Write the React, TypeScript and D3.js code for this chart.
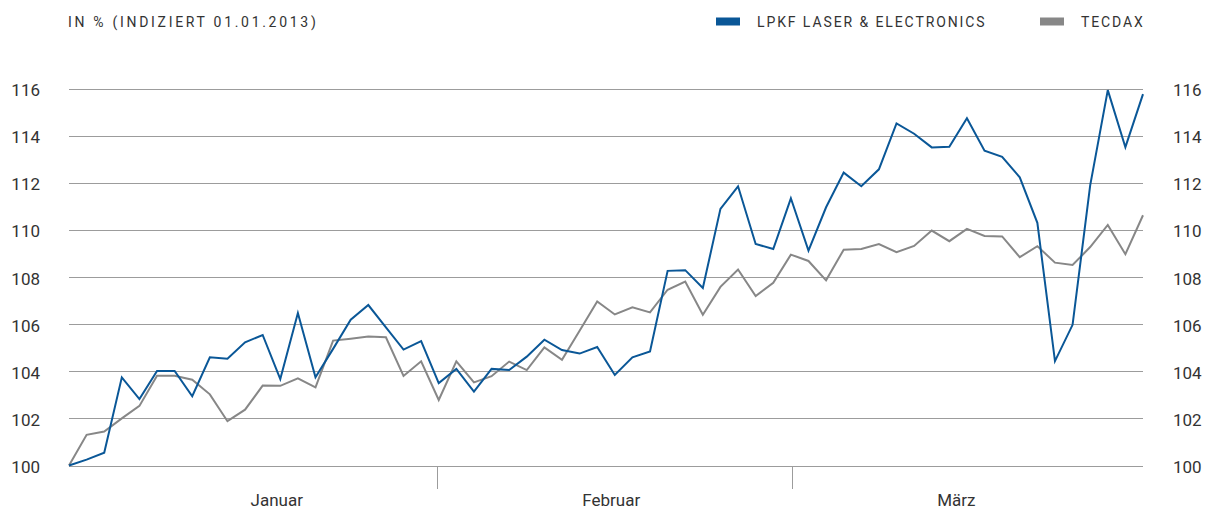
import React, { useEffect, useRef } from "react";
import * as d3 from "d3";

// index values, first trading day = 100
const lpkf = [
  100.0, 100.25, 100.54, 103.74, 102.82, 104.01, 104.01, 102.94, 104.59, 104.53,
  105.23, 105.54, 103.67, 106.47, 103.74, 104.95, 106.19, 106.81, 105.86, 104.92,
  105.28, 103.5, 104.1, 103.14, 104.1, 104.05, 104.62, 105.34, 104.9, 104.75,
  105.03, 103.84, 104.59, 104.84, 108.26, 108.29, 107.53, 110.89, 111.85, 109.4,
  109.19, 111.34, 109.12, 110.96, 112.43, 111.85, 112.57, 114.52, 114.08, 113.5,
  113.53, 114.74, 113.36, 113.1, 112.23, 110.3, 104.43, 105.97, 111.89, 115.93,
  113.51, 115.76,
];

const tecdax = [
  100.0, 101.3, 101.44, 102.0, 102.53, 103.81, 103.81, 103.64, 103.02, 101.88,
  102.37, 103.39, 103.38, 103.7, 103.32, 105.3, 105.38, 105.47, 105.44, 103.8,
  104.42, 102.78, 104.42, 103.53, 103.79, 104.41, 104.05, 105.01, 104.49, 105.72,
  106.96, 106.41, 106.71, 106.5, 107.46, 107.81, 106.4, 107.58, 108.32, 107.19,
  107.75, 108.95, 108.68, 107.86, 109.16, 109.19, 109.4, 109.05, 109.32, 109.97,
  109.52, 110.04, 109.74, 109.72, 108.84, 109.31, 108.61, 108.51, 109.27, 110.21,
  108.97, 110.62,
];

const yTicks = [100, 102, 104, 106, 108, 110, 112, 114, 116];
const months = ["Januar", "Februar", "März"];
// month borders and label centres, in trading-day index units
const monthBreaks = [20.9, 41.05];
const monthCenters = [11.8, 30.8, 50.4];

const seriesNames = ["LPKF LASER & ELECTRONICS", "TECDAX"];
const seriesColors = ["#0a5797", "#878787"];

const FONT = "Roboto, 'Noto Sans', sans-serif";
const TEXT = "#333333";

export default function App() {
  const ref = useRef<SVGSVGElement>(null);

  useEffect(() => {
    const svg = d3.select(ref.current);
    svg.selectAll("*").remove();

    const x = d3.scaleLinear().domain([0, lpkf.length - 1]).range([69, 1143]);
    const y = d3.scaleLinear().domain([100, 116]).range([465.5, 88.5]);

    // title
    svg
      .append("text")
      .attr("x", 68)
      .attr("y", 27)
      .attr("font-family", FONT)
      .attr("font-size", 14)
      .attr("letter-spacing", 2.7)
      .attr("fill", TEXT)
      .text("IN % (INDIZIERT 01.01.2013)");

    // legend
    const legendX = [716, 1040];
    seriesNames.forEach((name, i) => {
      svg
        .append("rect")
        .attr("x", legendX[i])
        .attr("y", 17.5)
        .attr("width", 24)
        .attr("height", 8)
        .attr("fill", seriesColors[i]);
      svg
        .append("text")
        .attr("x", legendX[i] + 41)
        .attr("y", 27)
        .attr("font-family", FONT)
        .attr("font-size", 14)
        .attr("letter-spacing", 1.9)
        .attr("fill", TEXT)
        .text(name);
    });

    // grid
    svg
      .append("g")
      .selectAll("line")
      .data(yTicks)
      .enter()
      .append("line")
      .attr("x1", x(0))
      .attr("x2", x(lpkf.length - 1))
      .attr("y1", (d) => Math.round(y(d)) + 0.5)
      .attr("y2", (d) => Math.round(y(d)) + 0.5)
      .attr("stroke", "#9c9c9c")
      .attr("stroke-width", 1);

    // y labels both sides
    const labels = svg
      .append("g")
      .attr("font-family", FONT)
      .attr("font-size", 17)
      .attr("fill", TEXT);
    labels
      .selectAll(".yl")
      .data(yTicks)
      .enter()
      .append("text")
      .attr("x", 40)
      .attr("y", (d) => y(d) + 7.5)
      .attr("text-anchor", "end")
      .text((d) => d);
    labels
      .selectAll(".yr")
      .data(yTicks)
      .enter()
      .append("text")
      .attr("x", 1173)
      .attr("y", (d) => y(d) + 7.5)
      .text((d) => d);

    // month separators + labels
    svg
      .append("g")
      .selectAll("line")
      .data(monthBreaks)
      .enter()
      .append("line")
      .attr("x1", (d) => Math.round(x(d)) + 0.5)
      .attr("x2", (d) => Math.round(x(d)) + 0.5)
      .attr("y1", 466)
      .attr("y2", 489)
      .attr("stroke", "#9c9c9c");
    labels
      .selectAll(".month")
      .data(months)
      .enter()
      .append("text")
      .attr("x", (d, i) => x(monthCenters[i]))
      .attr("y", 506)
      .attr("text-anchor", "middle")
      .text((d) => d);

    // lines, tecdax underneath
    const line = d3
      .line<number>()
      .x((d, i) => x(i))
      .y((d) => y(d));

    [tecdax, lpkf].forEach((values, i) => {
      svg
        .append("path")
        .datum(values)
        .attr("d", line)
        .attr("fill", "none")
        .attr("stroke", i === 0 ? seriesColors[1] : seriesColors[0])
        .attr("stroke-width", 2)
        .attr("stroke-linejoin", "miter");
    });
  }, []);

  return (
    <svg
      ref={ref}
      width={1205}
      height={510}
      style={{ position: "absolute", left: 0, top: 0, display: "block", background: "#fff" }}
    />
  );
}
